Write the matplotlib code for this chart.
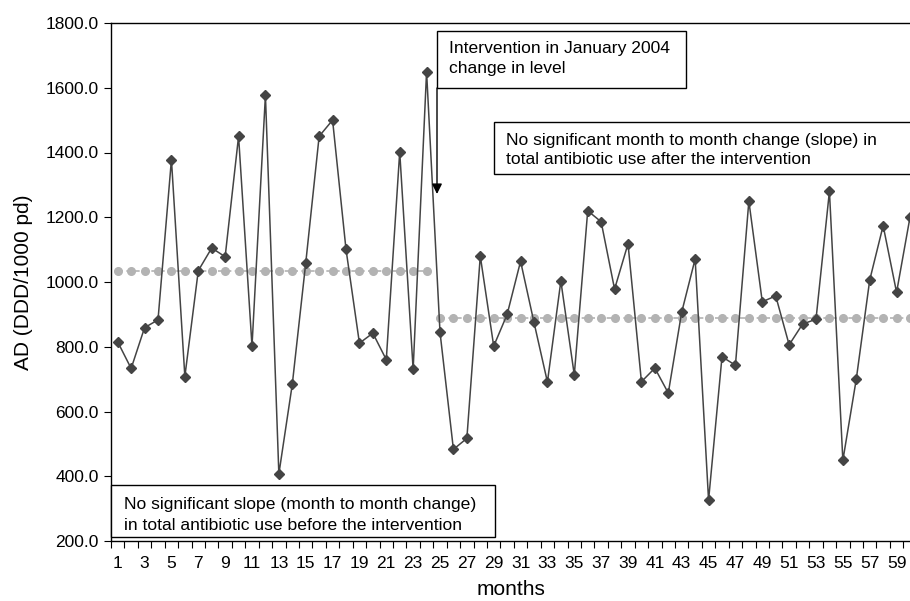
import matplotlib
matplotlib.use("Agg")
import matplotlib.pyplot as plt
from matplotlib.patches import Rectangle, FancyArrowPatch
import numpy as np

plt.rcParams['font.family'] = ['Liberation Sans', 'DejaVu Sans']

months = list(range(1, 61))
ad_values = [815, 733, 859, 883, 1378, 708, 1035, 1105, 1078, 1450,
             802, 1577, 407, 684, 1058, 1450, 1500, 1101, 811, 842,
             760, 1402, 730, 1650, 845, 483, 517, 1080, 802, 900,
             1064, 875, 691, 1003, 713, 1220, 1186, 978, 1118, 692,
             734, 657, 907, 1071, 326, 769, 743, 1250, 939, 957,
             806, 870, 885, 1280, 449, 700, 1006, 1174, 968, 1200]
pre_months = list(range(1, 25))
pre_mean = [1035] * 24
post_months = list(range(25, 61))
post_mean = [890] * 36
y_ticks = [200, 400, 600, 800, 1000, 1200, 1400, 1600, 1800]
x_tick_labels = list(range(1, 60, 2))

W, H = 910, 601
fig = plt.figure(figsize=(W / 100, H / 100), dpi=100)
L, R, T, B = 111, 910, 23, 541
ax = fig.add_axes([L / W, 1 - B / H, (R - L) / W, (B - T) / H])

def px(x, y):
    return (x / W, 1 - y / H)

mean_col = '#b3b3b3'
ax.plot(pre_months, pre_mean, color=mean_col, ls=(0, (3, 2)), lw=1.2,
        marker='o', ms=5.5, mec=mean_col, mfc=mean_col, zorder=2)
ax.plot(post_months, post_mean, color=mean_col, ls=(0, (3, 2)), lw=1.2,
        marker='o', ms=5.5, mec=mean_col, mfc=mean_col, zorder=2)
ax.plot(months, ad_values, color='#444444', lw=1.1, marker='D', ms=5.5,
        mfc='#444444', mec='#444444', zorder=3)

ax.set_xlim(0.5, 60.0)
ax.set_ylim(200, 1800)
ax.set_yticks(y_ticks)
ax.set_yticklabels([f"{v:.1f}" for v in y_ticks], fontsize=12.5)
ax.set_xticks(x_tick_labels)
ax.set_xticklabels([str(v) for v in x_tick_labels], fontsize=12.5)
ax.set_xticks(np.arange(0.5, 60.5, 1), minor=True)
ax.tick_params(axis='x', which='major', length=0, pad=10.5)
ax.tick_params(axis='x', which='minor', length=5, direction='out', width=0.8)
ax.tick_params(axis='y', which='major', length=5, direction='out', width=0.8, pad=4)
ax.spines['right'].set_visible(False)
for s in ['left', 'top', 'bottom']:
    ax.spines[s].set_linewidth(1.0)
ax.set_xlabel('months', fontsize=15, labelpad=7)
ax.set_ylabel('AD (DDD/1000 pd)', fontsize=15, labelpad=9)

def box(x0, y0, x1, y1):
    (fx0, fy0) = px(x0, y1)
    (fx1, fy1) = px(x1, y0)
    fig.patches.append(Rectangle((fx0, fy0), fx1 - fx0, fy1 - fy0,
                                 transform=fig.transFigure, fill=True,
                                 fc='white', ec='black', lw=1.0, zorder=5))

fs = 12.6
box(111, 485, 495, 537)
fig.text(*px(124, 505), 'No significant slope (month to month change)',
         fontsize=fs, va='center', ha='left', zorder=6)
fig.text(*px(124, 525), 'in total antibiotic use before the intervention',
         fontsize=fs, va='center', ha='left', zorder=6)

box(437, 31, 686, 88)
fig.text(*px(449, 49), 'Intervention in January 2004',
         fontsize=fs, va='center', ha='left', zorder=6)
fig.text(*px(449, 69), 'change in level',
         fontsize=fs, va='center', ha='left', zorder=6)
arr = FancyArrowPatch(px(437, 88), px(437, 194), transform=fig.transFigure,
                      arrowstyle='-|>,head_length=6,head_width=3',
                      color='black', lw=1.0, shrinkA=0, shrinkB=0)
fig.patches.append(arr)

box(494, 122, 915, 174)
fig.text(*px(506, 140), 'No significant month to month change (slope) in',
         fontsize=fs, va='center', ha='left', zorder=6)
fig.text(*px(506, 160), 'total antibiotic use after the intervention',
         fontsize=fs, va='center', ha='left', zorder=6)

fig.savefig('out.png', dpi=100)
